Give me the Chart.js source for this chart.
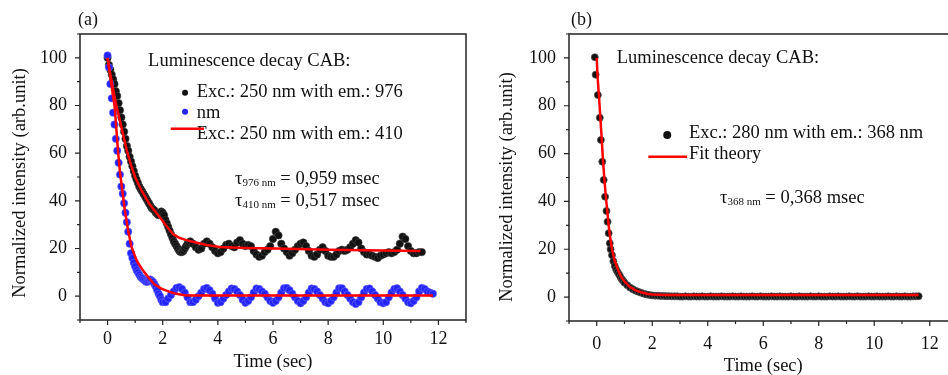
<!DOCTYPE html>
<html><head><meta charset="utf-8">
<script src="https://cdn.jsdelivr.net/npm/chart.js@4/dist/chart.umd.min.js"></script>
<style>
html,body{margin:0;padding:0;background:#fff;overflow:hidden;width:948px;height:375px;position:relative;}
canvas{position:absolute;top:0;}
</style></head><body>
<canvas id="cA" width="474" height="375" style="left:0"></canvas>
<canvas id="cB" width="490" height="375" style="left:474px"></canvas>
<script>
// ---------- Panel (a): em. 976 nm (black) ----------
const tA976 = [0,0.05,0.1,0.15,0.2,0.25,0.3,0.35,0.4,0.45,0.5,0.55,0.6,0.65,0.7,0.75,0.8,0.85,0.9,0.95,
  1,1.05,1.1,1.15,1.2,1.25,1.3,1.35,1.4,1.45,1.5,1.55,1.6,1.65,1.7,1.75,1.8,1.85,1.9,1.95,
  2,2.05,2.1,2.15,2.2,2.25,2.3,2.35,2.4,2.45,2.5,2.55,2.6,2.65,2.7,2.75,2.8,2.85,2.9,2.95,3,
  3.1,3.2,3.3,3.4,3.5,3.6,3.7,3.8,3.9,4.0,
  4.1,4.2,4.3,4.4,4.5,4.6,4.7,4.8,4.9,5.0,
  5.1,5.2,5.3,5.4,5.5,5.6,5.7,5.8,5.9,6.0,
  6.1,6.2,6.3,6.4,6.5,6.6,6.7,6.8,6.9,7.0,
  7.1,7.2,7.3,7.4,7.5,7.6,7.7,7.8,7.9,8.0,
  8.1,8.2,8.3,8.4,8.5,8.6,8.7,8.8,8.9,9.0,
  9.1,9.2,9.3,9.4,9.5,9.6,9.7,9.8,9.9,10.0,
  10.1,10.2,10.3,10.4,10.5,10.6,10.7,10.8,10.9,11.0,
  11.1,11.2,11.3,11.4];
const yA976 = [100,97,95,93,91,89,86,84,81,78,75,72,69,66,63,61,58.5,56.5,54.5,52.5,
  50.5,49,47.5,46,45,44,43,42,41,40,39,38,37,36.5,36,35,34.5,34,35,35.5,
  35,34,32,30.5,29,27.5,26,24.5,23,22,21,20,19,18.5,18.5,19,20,21,22,22.5,23,
  22,20.5,19.5,20,22,23,22,20.5,19,18,
  18.5,20,21.5,22,21,20.5,22.5,23.5,22,21,
  21.5,21,19,17.5,16.5,17,18.5,19.5,21,24,
  27,25.5,22,20,18.5,17,18,19.5,21,22,
  22.5,21,19,17,16.5,17.5,19.5,20.5,19,17,
  16.5,16.5,17.5,19,19.5,19,19.5,20.5,22,23.5,
  22.5,20,18.5,17.5,17.5,17,16.5,16,17,17.5,
  18,18.5,18,18.5,19.5,22,25,24,21,19,
  18,18,18.5,18.5];
// ---------- Panel (a): em. 410 nm (blue) ----------
const tA410 = [0,0.05,0.1,0.15,0.2,0.25,0.3,0.35,0.4,0.45,0.5,0.55,0.6,0.65,0.7,0.75,0.8,0.85,0.9,0.95,
  1,1.05,1.1,1.15,1.2,1.25,1.3,1.35,1.4,1.45,1.5,1.55,1.6,1.65,1.7,1.75,1.8,1.85,1.9,1.95,2,
  2.1,2.2,2.3,2.4,2.5,2.6,2.7,2.8,2.9,3.0,
  3.1,3.2,3.3,3.4,3.5,3.6,3.7,3.8,3.9,4.0,
  4.1,4.2,4.3,4.4,4.5,4.6,4.7,4.8,4.9,5.0,
  5.1,5.2,5.3,5.4,5.5,5.6,5.7,5.8,5.9,6.0,
  6.1,6.2,6.3,6.4,6.5,6.6,6.7,6.8,6.9,7.0,
  7.1,7.2,7.3,7.4,7.5,7.6,7.7,7.8,7.9,8.0,
  8.1,8.2,8.3,8.4,8.5,8.6,8.7,8.8,8.9,9.0,
  9.1,9.2,9.3,9.4,9.5,9.6,9.7,9.8,9.9,10.0,
  10.1,10.2,10.3,10.4,10.5,10.6,10.7,10.8,10.9,11.0,
  11.1,11.2,11.3,11.4,11.5,11.6,11.7,11.8];
const yA410 = [101,96,89,83,77,72,66,61,56,51,46,43,39,35,31,27,22,18,16,14,
  12.5,11,10,9,8,7.5,7,6.5,6,6,6.5,7,6.5,6,5,4,2.5,1,0,-1.5,-2.5,
  -2.5,-1,0.5,2,3.5,3.8,3,1.5,-0.5,-2.5,
  -2.5,-1.5,0,1.5,3,3.5,2.5,1,-1,-2.8,
  -2.5,-1,0.5,2,3.2,3,2,0.5,-1.5,-2.8,
  -2,-0.5,1.5,3.2,3,2,1,-0.5,-2,-2.8,
  -2,-0.5,1.5,3.3,3.5,2.5,1,-0.5,-2,-3,
  -2,-0.5,1.5,3.2,3,2,0.5,-1,-2.5,-3,
  -2,-0.5,1.5,3.3,3.3,2,0.5,-1,-2.5,-3.3,
  -2.5,-0.5,1.5,3,3.2,2,0.5,-1,-2.5,-3,
  -2.5,-0.5,1.5,3,3.3,2,0.5,-1,-2.5,-3,
  -2,-0.5,2,3.5,3,2,1.5,1];
// ---------- Panel (a): fit curves (red) ----------
const tFitA976 = [0,0.1,0.2,0.3,0.4,0.5,0.58,0.7,0.85,1.0,1.2,1.5,1.8,2.0,2.2,2.38,2.6,2.86,3.2,3.6,4.07,5.0,6.1,8.0,10.0,11.35];
const yFitA976 = [100,93,87,81,76,71,67,61,55,50,45,39,34.5,31.5,28.5,26,24.5,23.5,22.5,21.5,20.6,20.2,20,19.5,19.2,19];
const tFitA410 = [0,0.1,0.2,0.25,0.3,0.37,0.45,0.5,0.62,0.74,0.86,1.0,1.1,1.3,1.47,1.7,1.95,2.2,2.44,2.8,3.0,11.8];
const yFitA410 = [100,92,84,80,73,62,52,47.5,36.5,28,21,16.5,14,10.5,8,5,3.2,2,1.1,0.4,0.3,0.3];

// ---------- Panel (b): em. 368 nm (black) ----------
const tB368 = [-0.07,-0.04,0.04,0.11,0.15,0.2,0.25,0.3,0.35,0.39,0.43,0.47,0.5,0.55,0.6,0.65,0.7,0.75,0.8,0.85,0.9,0.95,
  1.0,1.1,1.2,1.3,1.4,1.5,1.6,1.7,1.8,1.9,2.0,
  2.1,2.2,2.3,2.4,2.5,2.6,2.7,2.8,2.9,3.0,
  3.1,3.2,3.3,3.4,3.5,3.6,3.7,3.8,3.9,4.0,
  4.1,4.2,4.3,4.4,4.5,4.6,4.7,4.8,4.9,5.0,
  5.1,5.2,5.3,5.4,5.5,5.6,5.7,5.8,5.9,6.0,
  6.1,6.2,6.3,6.4,6.5,6.6,6.7,6.8,6.9,7.0,
  7.1,7.2,7.3,7.4,7.5,7.6,7.7,7.8,7.9,8.0,
  8.1,8.2,8.3,8.4,8.5,8.6,8.7,8.8,8.9,9.0,
  9.1,9.2,9.3,9.4,9.5,9.6,9.7,9.8,9.9,10.0,
  10.1,10.2,10.3,10.4,10.5,10.6,10.7,10.8,10.9,11.0,
  11.1,11.2,11.3,11.4,11.5,11.6];
const yB368 = [100.3,93,84.5,75,65.7,56.6,49,42,36,31.5,26.7,22.5,20,17.5,15,13,11.5,10.5,9.5,8.5,7.5,6.8,
  6,5,4,3.3,2.7,2.2,1.8,1.4,1.1,0.9,0.7,
  0.6,0.6,0.5,0.5,0.4,0.4,0.3,0.3,0.3,0.2,
  0.2,0.3,0.2,0.2,0.3,0.2,0.2,0.3,0.2,0.2,
  0.3,0.2,0.2,0.2,0.3,0.2,0.2,0.2,0.3,0.2,
  0.2,0.3,0.2,0.2,0.2,0.3,0.2,0.2,0.3,0.2,
  0.2,0.2,0.3,0.2,0.2,0.3,0.2,0.2,0.2,0.3,
  0.2,0.2,0.3,0.2,0.2,0.2,0.3,0.2,0.2,0.3,
  0.2,0.2,0.2,0.3,0.2,0.2,0.3,0.2,0.2,0.2,
  0.3,0.2,0.2,0.3,0.2,0.2,0.2,0.3,0.2,0.2,
  0.3,0.2,0.2,0.2,0.3,0.2,0.2,0.3,0.2,0.2,
  0.3,0.2,0.2,0.3,0.3,0.4];
const tFitB = [0,0.03,0.08,0.13,0.18,0.22,0.27,0.32,0.37,0.42,0.47,0.55,0.65,0.78,0.9,1.0,1.2,1.4,1.6,1.8,2.0,2.5,11.6];
const yFitB = [100,92,84,75,66,58,50,43,37,31,26,20,15,11,8,6.5,4.2,2.8,2,1.4,1.1,0.9,0.9];

// ---------- Axes ----------
const xTickLabels = [0,2,4,6,8,10,12];
const xMinorTicks = [-1,1,3,5,7,9,11,13];
const yTickLabels = [0,20,40,60,80,100];
const yMinorTicks = [-10,10,30,50,70,90,110];
const yAxisTitle = 'Normalized intensity (arb.unit)';
const xAxisTitle = 'Time (sec)';

const SERIF = '"Liberation Serif", "Times New Roman", serif';
const zip = (ts, ys) => ts.map((t, i) => ({x: t, y: ys[i]}));

function decor(cfg) {
  return {
    id: 'decor',
    afterDraw(chart) {
      const {ctx, chartArea: a, scales: {x, y}} = chart;
      ctx.save();
      ctx.strokeStyle = '#222';
      ctx.lineWidth = 1.5;
      ctx.strokeRect(a.left, a.top, a.right - a.left, a.bottom - a.top);
      ctx.lineWidth = 1.2;
      ctx.beginPath();
      xTickLabels.forEach(v => { const p = x.getPixelForValue(v); ctx.moveTo(p, a.bottom); ctx.lineTo(p, a.bottom + 5); });
      xMinorTicks.forEach(v => { const p = x.getPixelForValue(v); ctx.moveTo(p, a.bottom); ctx.lineTo(p, a.bottom + 3); });
      yTickLabels.forEach(v => { const p = y.getPixelForValue(v); ctx.moveTo(a.left, p); ctx.lineTo(a.left - 5, p); });
      yMinorTicks.forEach(v => { const p = y.getPixelForValue(v); ctx.moveTo(a.left, p); ctx.lineTo(a.left - 3, p); });
      ctx.stroke();
      ctx.fillStyle = '#111';
      ctx.font = '18.5px ' + SERIF;
      ctx.save();
      ctx.translate(cfg.yTitleX, cfg.yTitleY);
      ctx.rotate(-Math.PI / 2);
      ctx.textAlign = 'center';
      ctx.textBaseline = 'middle';
      ctx.fillText(yAxisTitle, 0, 0);
      ctx.restore();
      ctx.textAlign = 'left';
      ctx.textBaseline = 'middle';
      ctx.font = '18px ' + SERIF;
      ctx.fillText(cfg.panel, a.left + cfg.panelDx, 20);
      ctx.font = '18.5px ' + SERIF;
      cfg.texts.forEach(t => ctx.fillText(t.text, x.getPixelForValue(t.x), y.getPixelForValue(t.y)));
      cfg.taus.forEach(t => {
        let px = x.getPixelForValue(t.x); const py = y.getPixelForValue(t.y);
        ctx.font = '18.5px ' + SERIF; ctx.fillText('\u03C4', px, py); px += ctx.measureText('\u03C4').width;
        ctx.font = '11px ' + SERIF; ctx.fillText(t.sub, px, py + 4); px += ctx.measureText(t.sub).width;
        ctx.font = '18.5px ' + SERIF; ctx.fillText(t.rest, px, py);
      });
      cfg.markers.forEach(m => {
        const px = x.getPixelForValue(m.x), py = y.getPixelForValue(m.y);
        ctx.fillStyle = m.color;
        ctx.beginPath();
        ctx.arc(px, py, m.r, 0, Math.PI * 2);
        ctx.fill();
      });
      cfg.lines.forEach(l => {
        ctx.strokeStyle = '#ff0000';
        ctx.lineWidth = 2.5;
        ctx.beginPath();
        ctx.moveTo(x.getPixelForValue(l.x1), y.getPixelForValue(l.y));
        ctx.lineTo(x.getPixelForValue(l.x2), y.getPixelForValue(l.y));
        ctx.stroke();
      });
      ctx.restore();
    }
  };
}

function scalesFor(yWidth, xHeight, xPad, titlePadB, titleLH) {
  return {
    x: {
      type: 'linear', min: -1, max: 13,
      afterBuildTicks: s => { s.ticks = xTickLabels.map(v => ({value: v})); },
      afterFit: s => { s.height = xHeight; },
      grid: {display: false, drawTicks: false},
      border: {display: false},
      ticks: {color: '#111', font: {family: SERIF, size: 18}, padding: xPad, maxRotation: 0, autoSkip: false},
      title: {display: true, text: xAxisTitle, color: '#111', font: {family: SERIF, size: 18.5, lineHeight: titleLH}, padding: {top: 0, bottom: titlePadB}}
    },
    y: {
      type: 'linear', min: -10, max: 110,
      afterBuildTicks: s => { s.ticks = yTickLabels.map(v => ({value: v})); },
      afterFit: s => { s.width = yWidth; },
      grid: {display: false, drawTicks: false},
      border: {display: false},
      ticks: {color: '#111', font: {family: SERIF, size: 18}, padding: 13, autoSkip: false}
    }
  };
}

const common = {
  responsive: false, animation: false, devicePixelRatio: 1, events: [],
  plugins: {legend: {display: false}, tooltip: {enabled: false}}
};

new Chart(document.getElementById('cA'), {
  type: 'scatter',
  data: {datasets: [
    {data: zip(tFitA976, yFitA976), showLine: true, borderColor: '#ff0000', borderWidth: 2.5, pointRadius: 0, order: 0},
    {data: zip(tFitA410, yFitA410), showLine: true, borderColor: '#ff0000', borderWidth: 2.5, pointRadius: 0, order: 0},
    {data: zip(tA410, yA410), pointRadius: 3.7, pointBackgroundColor: '#2323ff', pointBorderColor: '#6a6aff', pointBorderWidth: 0.6, order: 1},
    {data: zip(tA976, yA976), pointRadius: 3.7, pointBackgroundColor: '#111', pointBorderColor: '#444', pointBorderWidth: 0.6, order: 2}
  ]},
  options: Object.assign({}, common, {
    layout: {padding: {left: 0, top: 34, right: 8, bottom: 0}},
    scales: scalesFor(80, 55, 8, 2, 1.2)
  }),
  plugins: [decor({
    panel: '(a)', panelDx: -2, yTitleX: 20, yTitleY: 183,
    texts: [
      {x: 1.47, y: 98.7, text: 'Luminescence decay CAB:'},
      {x: 3.23, y: 85.8, text: 'Exc.: 250 nm with em.: 976'},
      {x: 3.23, y: 76.9, text: 'nm'},
      {x: 3.23, y: 68.0, text: 'Exc.: 250 nm with em.: 410'}
    ],
    taus: [
      {x: 4.62, y: 49.2, sub: '976 nm', rest: ' = 0,959 msec'},
      {x: 4.62, y: 40.0, sub: '410 nm', rest: ' = 0,517 msec'}
    ],
    markers: [
      {x: 2.81, y: 85.3, r: 3, color: '#111'},
      {x: 2.81, y: 77.4, r: 3, color: '#2323ff'}
    ],
    lines: [{x1: 2.29, x2: 3.5, y: 70.2}]
  })]
});

new Chart(document.getElementById('cB'), {
  type: 'scatter',
  data: {datasets: [
    {data: zip(tFitB, yFitB), showLine: true, borderColor: '#ff0000', borderWidth: 2.5, pointRadius: 0, order: 0},
    {data: zip(tB368, yB368), pointRadius: 3.5, pointBackgroundColor: '#111', pointBorderColor: '#555', pointBorderWidth: 0.8, order: 1}
  ]},
  options: Object.assign({}, common, {
    layout: {padding: {left: 0, top: 34, right: 6.5, bottom: 0}},
    scales: scalesFor(95, 54, 12, 0.5, 0.85)
  }),
  plugins: [decor({
    panel: '(b)', panelDx: 2, yTitleX: 33, yTitleY: 187,
    texts: [
      {x: 0.72, y: 99.8, text: 'Luminescence decay CAB:'},
      {x: 3.32, y: 68.5, text: 'Exc.: 280 nm with em.: 368 nm'},
      {x: 3.32, y: 59.8, text: 'Fit theory'}
    ],
    taus: [
      {x: 4.44, y: 41.3, sub: '368 nm', rest: ' = 0,368 msec'}
    ],
    markers: [{x: 2.54, y: 67.8, r: 4, color: '#111'}],
    lines: [{x1: 1.86, x2: 3.26, y: 58.7}]
  })]
});
</script>
</body></html>
